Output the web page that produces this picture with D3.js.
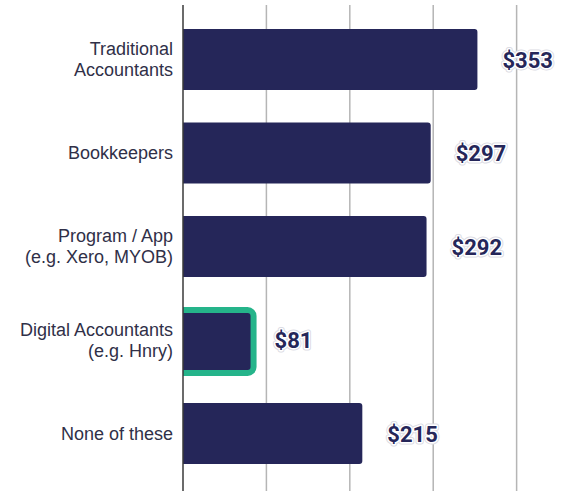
<!DOCTYPE html>
<html>
<head>
<meta charset="utf-8">
<script src="https://cdn.jsdelivr.net/npm/d3@7"></script>
<style>
  body { margin: 0; background: #fff; }
</style>
</head>
<body>
<div id="chart"></div>
<script>
// Data
const categories = [
  ["Traditional", "Accountants"],
  ["Bookkeepers"],
  ["Program / App", "(e.g. Xero, MYOB)"],
  ["Digital Accountants", "(e.g. Hnry)"],
  ["None of these"]
];
const values = [353, 297, 292, 81, 215];
const highlighted = [false, false, false, true, false];
const gridTicks = [100, 200, 300, 400];

const W = 575, H = 491;
const margin = { top: 5, left: 183 };

const svg = d3.select("#chart").append("svg")
  .attr("width", W)
  .attr("height", H);

const x = d3.scaleLinear().domain([0, 470]).range([margin.left, W]);
const y = d3.scaleBand()
  .domain(d3.range(values.length))
  .range([12.75, 480.25])
  .paddingInner(0.348)
  .paddingOuter(0.174);

// gridlines
svg.append("g")
  .selectAll("line")
  .data(gridTicks)
  .join("line")
  .attr("x1", d => x(d)).attr("x2", d => x(d))
  .attr("y1", margin.top).attr("y2", H)
  .attr("stroke", "#b5b5b5")
  .attr("stroke-width", 1.5);

svg.append("clipPath").attr("id", "plotclip")
  .append("rect")
  .attr("x", margin.left).attr("y", 0)
  .attr("width", W - margin.left).attr("height", H);

const navy = "#252659";

// bars with rounded right end
function barPath(x0, x1, y0, h, r) {
  return `M${x0},${y0}H${x1 - r}Q${x1},${y0} ${x1},${y0 + r}V${y0 + h - r}Q${x1},${y0 + h} ${x1 - r},${y0 + h}H${x0}Z`;
}

const bars = svg.append("g").attr("clip-path", "url(#plotclip)");
values.forEach((v, i) => {
  if (highlighted[i]) {
    bars.append("rect")
      .attr("x", x(0) - 6)
      .attr("y", y(i) + 0.5)
      .attr("width", x(v) - x(0) + 6 + 3)
      .attr("height", y.bandwidth() + 2)
      .attr("rx", 6)
      .attr("fill", navy)
      .attr("stroke", "#25b48a")
      .attr("stroke-width", 6);
  } else {
    bars.append("path")
      .attr("d", barPath(x(0), x(v), y(i), y.bandwidth(), 3))
      .attr("fill", navy);
  }
});

// axis line
svg.append("line")
  .attr("x1", margin.left).attr("x2", margin.left)
  .attr("y1", margin.top).attr("y2", H)
  .attr("stroke", "#3a3a3a")
  .attr("stroke-width", 1.5);

// category labels
const lineH = 21;
categories.forEach((lines, i) => {
  const cy = y(i) + y.bandwidth() / 2;
  const t = svg.append("text")
    .attr("text-anchor", "end")
    .attr("font-family", "Liberation Sans, Arial, sans-serif")
    .attr("font-size", 18)
    .attr("fill", "#303048");
  lines.forEach((s, j) => {
    t.append("tspan")
      .attr("x", 173)
      .attr("y", cy + 6 + (j - (lines.length - 1) / 2) * lineH)
      .text(s);
  });
});

// value labels with halo
const labelG = svg.append("g")
  .attr("font-family", "Roboto, sans-serif")
  .attr("font-weight", "bold")
  .attr("font-size", 22);
values.forEach((v, i) => {
  const lx = x(v) + (highlighted[i] ? 24 : 25);
  const ly = y(i) + y.bandwidth() / 2 + 8;
  labelG.append("text").attr("x", lx).attr("y", ly)
    .attr("fill", "#dcdce4").attr("stroke", "#dcdce4").attr("stroke-width", 5)
    .attr("stroke-linejoin", "round")
    .text("$" + v);
  labelG.append("text").attr("x", lx).attr("y", ly)
    .attr("fill", navy).attr("stroke", "#fff").attr("stroke-width", 3)
    .attr("stroke-linejoin", "round").attr("paint-order", "stroke")
    .text("$" + v);
});
</script>
</body>
</html>
